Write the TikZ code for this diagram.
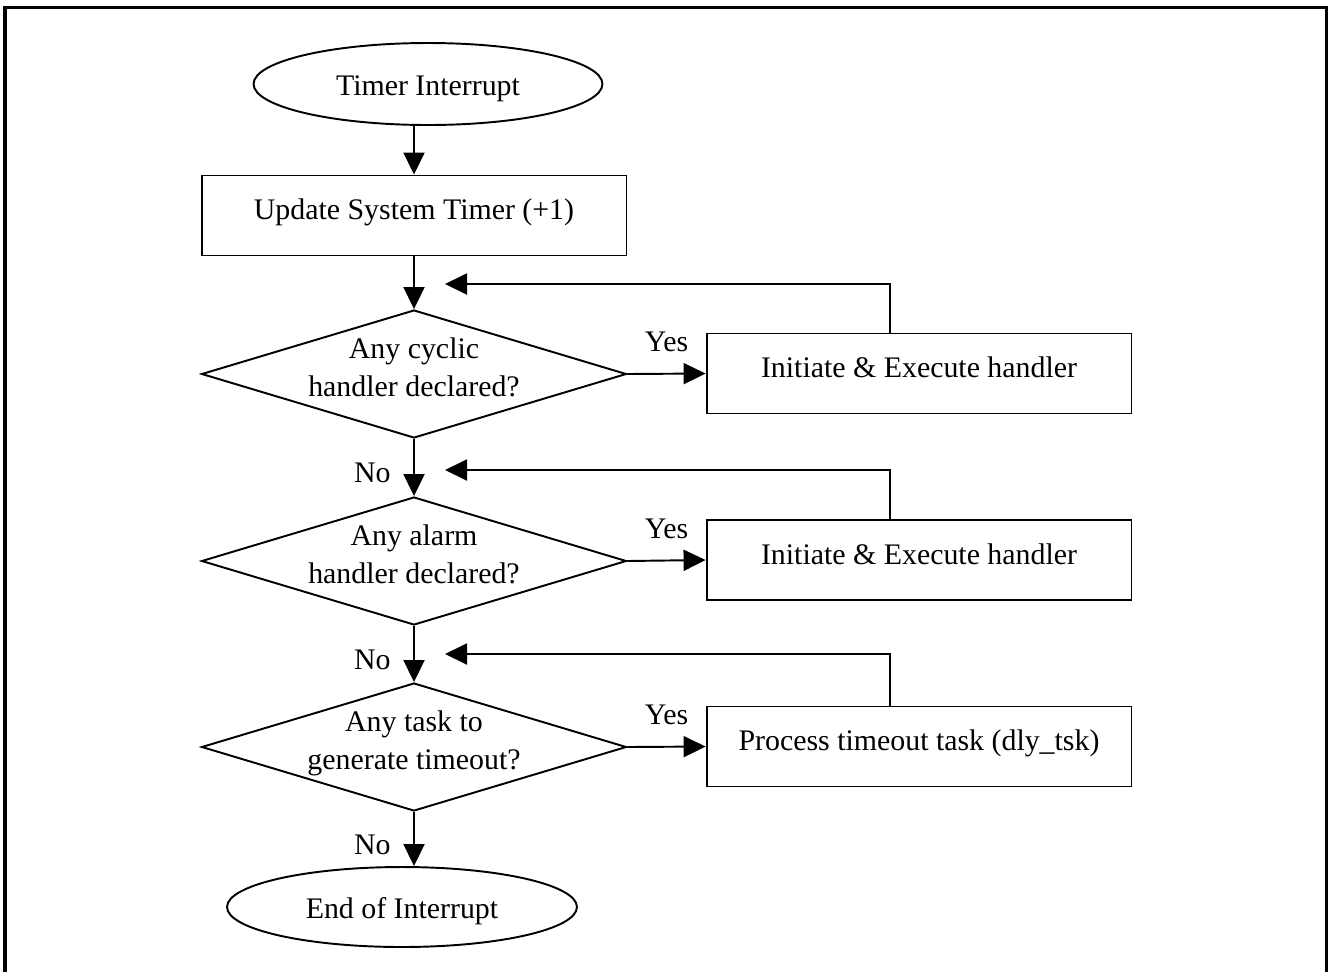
\documentclass[tikz,border=0pt]{standalone}
\usepackage{fontspec}
\setmainfont{Liberation Serif}
\usetikzlibrary{shapes.geometric,arrows.meta,positioning,calc}
\newcommand{\flowfont}{\fontsize{17}{21.6}\selectfont}
\tikzset{
  % Process box
  procbox/.style={rectangle, draw, line width=1.1pt, align=center,
                  text height=12pt, text depth=7pt,
                  minimum width=8.5cm, minimum height=1.6cm, font=\flowfont},
  % Decision diamond
  decbox/.style={diamond, draw, line width=1.1pt, align=center, aspect=3.3,
                 text height=34pt, text depth=8pt,
                 inner sep=-20pt, minimum width=8.5cm, minimum height=2.56cm,
                 font=\flowfont},
  % Start / end
  termbox/.style={ellipse, draw, line width=1.1pt, inner sep=0pt,
                  text height=13.5pt, text depth=0pt, font=\flowfont},
  % Labels on connectors
  lbl/.style={font=\flowfont, inner sep=0pt},
  % Arrows
  arr/.style={-{Triangle[length=0.44cm,width=0.42cm]}, line width=1.1pt},
}
\begin{document}
\begin{tikzpicture}[x=0.02cm,y=-0.02cm]
  \useasboundingbox (0,0) rectangle (1328,971);
  \draw[line width=1.8pt] (5,7.5) rectangle (1326.5,1000);

  %% -- Main column --------------------------------------
  \node[termbox, minimum width=6.98cm, minimum height=1.64cm]
       (start) at (428,84) {Timer Interrupt};
  \node[procbox] (upd) at (414,215.5) {Update System Timer (+1)};
  \node[decbox] (cyc) at (414,374) {Any cyclic\\handler declared?};
  \node[decbox] (alm) at (414,561) {Any alarm\\handler declared?};
  \node[decbox] (tmo) at (414,747) {Any task to\\generate timeout?};
  \node[termbox, minimum width=7cm, minimum height=1.6cm]
       (stop) at (402,907) {End of Interrupt};

  %% -- Handlers -----------------------------------------
  \node[procbox] (cych) at (919,373.5) {Initiate \& Execute handler};
  \node[procbox] (almh) at (919,560) {Initiate \& Execute handler};
  \node[procbox] (tmoh) at (919,746.5) {Process timeout task (dly\_tsk)};

  %% -- Return points ------------------------------------
  \coordinate (cycin) at (445,284);
  \coordinate (almin) at (445,470);
  \coordinate (tmoin) at (445,654);

  %% -- Arrows -------------------------------------------
  \draw[arr] (start.south -| upd.north) -- (upd.north);
  \draw[arr] (upd) -- (cyc);
  \draw[arr] (cyc) -- node[lbl, pos=0.6, left=0.45cm] {No} (alm);
  \draw[arr] (alm) -- node[lbl, pos=0.6, left=0.45cm] {No} (tmo);
  \draw[arr] (tmo.south) -- node[lbl, pos=0.6, left=0.45cm] {No} (tmo.south |- stop.north);

  \draw[arr] (cyc.east) -- node[lbl, pos=0.5, above=0.42cm] {Yes} (cych.west);
  \draw[arr] (alm.east) -- node[lbl, pos=0.5, above=0.42cm] {Yes} (almh.west);
  \draw[arr] (tmo.east) -- node[lbl, pos=0.5, above=0.42cm] {Yes} (tmoh.west);

  \draw[arr] ($(cych.north)+(-29,0)$) |- (cycin);
  \draw[arr] ($(almh.north)+(-29,0)$) |- (almin);
  \draw[arr] ($(tmoh.north)+(-29,0)$) |- (tmoin);
\end{tikzpicture}
\end{document}
